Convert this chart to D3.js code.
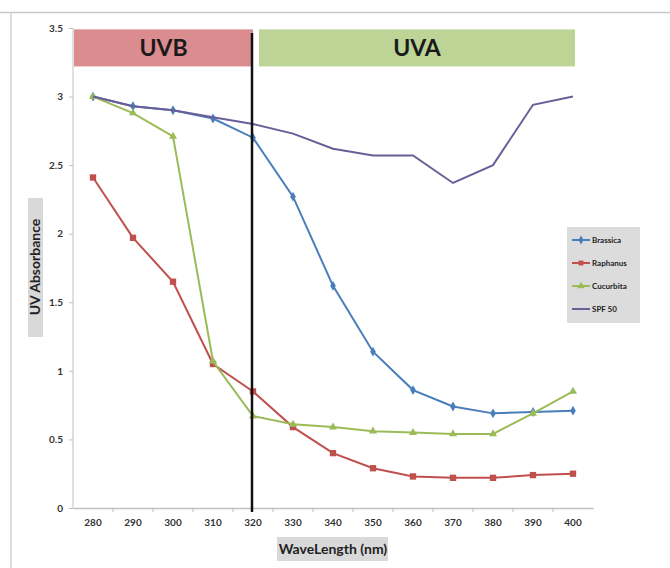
<!DOCTYPE html>
<meta charset="utf-8">
<style>
body { margin: 0; background: #fff; }
text { font-family: Lato, "Liberation Sans", sans-serif; font-weight: bold; fill: #333; }
.axis path, .axis line { stroke: #bfbfbf; }
</style>
<svg></svg>
<script src="https://d3js.org/d3.v7.min.js"></script>
<script>

// wavelengths (nm)
var wavelengths = [280, 290, 300, 310, 320, 330, 340, 350, 360, 370, 380, 390, 400];
var yTicks = [0, 0.5, 1, 1.5, 2, 2.5, 3, 3.5];

// absorbance values
var brassica  = [3.0, 2.93, 2.9, 2.84, 2.7, 2.27, 1.62, 1.14, 0.86, 0.74, 0.69, 0.70, 0.71];
var raphanus  = [2.41, 1.97, 1.65, 1.05, 0.85, 0.59, 0.40, 0.29, 0.23, 0.22, 0.22, 0.24, 0.25];
var cucurbita = [3.0, 2.88, 2.71, 1.07, 0.67, 0.61, 0.59, 0.56, 0.55, 0.54, 0.54, 0.69, 0.85];
var spf50     = [3.0, 2.93, 2.9, 2.85, 2.8, 2.73, 2.62, 2.57, 2.57, 2.37, 2.5, 2.94, 3.0];

var seriesNames = ["Brassica", "Raphanus", "Cucurbita", "SPF 50"];
var seriesColors = ["#4a7ebb", "#c0504d", "#9bbb59", "#6a5e98"];
var seriesShapes = [d3.symbolDiamond, d3.symbolSquare, d3.symbolTriangle, null];
var seriesValues = [brassica, raphanus, cucurbita, spf50];

// regions: [label, from, to]
var regions = [["UVB", 280, 320], ["UVA", 320, 400]];
var regionColors = ["#da8c8e", "#bcd496"];
var boundary = 320;

var W = 670, H = 568;
var svg = d3.select("svg").attr("width", W).attr("height", H);

// outer frame
svg.append("line").attr("x1", 0).attr("x2", W).attr("y1", 12.5).attr("y2", 12.5).attr("stroke", "#c8c8c8").attr("stroke-width", 1.5);
svg.append("line").attr("x1", 11).attr("x2", 11).attr("y1", 12).attr("y2", H).attr("stroke", "#d0d0d0").attr("stroke-width", 1.5);

var x = d3.scaleBand().domain(wavelengths).range([73, 593]).padding(0);
var y = d3.scaleLinear().domain([0, 3.5]).range([508, 28]);
function cx(v) { return x(v) + x.bandwidth() / 2; }

// region bands
var bandTop = y(3.49), bandBot = y(3.22);
regions.forEach(function(r, i) {
  var x0 = i == 0 ? x.range()[0] + 1 : cx(r[1]) + 6;
  var x1 = i == 0 ? cx(r[2]) : cx(r[2]) + 2;
  svg.append("rect")
    .attr("x", x0).attr("y", bandTop)
    .attr("width", x1 - x0).attr("height", bandBot - bandTop)
    .attr("fill", regionColors[i]);
  svg.append("text")
    .attr("x", (x0 + x1) / 2).attr("y", (bandTop + bandBot) / 2 + 8)
    .attr("text-anchor", "middle")
    .style("font-size", "23px").style("fill", "#1a1a1a")
    .text(r[0]);
});

// y axis
var yAxis = svg.append("g").attr("class", "axis")
  .attr("transform", "translate(73,0)")
  .call(d3.axisLeft(y).tickValues(yTicks).tickSize(4).tickPadding(6)
    .tickFormat(function(d) { return d; }));
yAxis.select(".domain").remove();
yAxis.append("line").attr("x1", 0).attr("x2", 0).attr("y1", y(3.5)).attr("y2", y(0)).attr("stroke", "#d0d0d0");
yAxis.selectAll("text").style("font-size", "10px").style("fill", "#333");

// x axis
var xAxis = svg.append("g").attr("class", "axis")
  .attr("transform", "translate(0," + y(0) + ")")
  .call(d3.axisBottom(x).tickSize(0).tickPadding(11));
xAxis.select(".domain").attr("stroke", "#c0c0c0").attr("stroke-width", 1.5);
xAxis.selectAll("text").style("font-size", "10px").style("fill", "#333");
xAxis.selectAll(".sep").data(wavelengths.slice(1)).enter().append("line")
  .attr("x1", function(d) { return x(d); }).attr("x2", function(d) { return x(d); })
  .attr("y1", 0).attr("y2", 4).attr("stroke", "#d0d0d0");

// series
var line = d3.line().x(function(d, i) { return cx(wavelengths[i]); }).y(function(d) { return y(d); });
seriesValues.forEach(function(vals, s) {
  svg.append("path").datum(vals)
    .attr("d", line).attr("fill", "none")
    .attr("stroke", seriesColors[s]).attr("stroke-width", 2);
  if (seriesShapes[s]) {
    svg.selectAll(".m" + s).data(vals).enter().append("path")
      .attr("d", d3.symbol().type(seriesShapes[s]).size(s == 1 ? 40 : 28))
      .attr("transform", function(d, i) { return "translate(" + cx(wavelengths[i]) + "," + y(d) + ")"; })
      .attr("fill", seriesColors[s]);
  }
});

// UVB / UVA boundary
svg.append("line")
  .attr("x1", cx(boundary) - 1).attr("x2", cx(boundary) - 1)
  .attr("y1", 33).attr("y2", y(0) + 4)
  .attr("stroke", "#111").attr("stroke-width", 2.5);

// legend
var lg = svg.append("g").attr("transform", "translate(567,227)");
lg.append("rect").attr("width", 73).attr("height", 96).attr("fill", "#dcdcdc");
seriesNames.forEach(function(n, i) {
  var yy = 13 + i * 23;
  lg.append("line").attr("x1", 5).attr("x2", 23).attr("y1", yy).attr("y2", yy)
    .attr("stroke", seriesColors[i]).attr("stroke-width", 2);
  if (seriesShapes[i]) {
    lg.append("path").attr("d", d3.symbol().type(seriesShapes[i]).size(24))
      .attr("transform", "translate(14," + yy + ")").attr("fill", seriesColors[i]);
  }
  lg.append("text").attr("x", 25).attr("y", yy + 3)
    .style("font-size", "8px").style("fill", "#222").text(n);
});

// axis titles
svg.append("rect").attr("x", 28).attr("y", 198).attr("width", 15).attr("height", 139).attr("fill", "#d9d9d9");
svg.append("text")
  .attr("transform", "translate(40,267) rotate(-90)")
  .attr("text-anchor", "middle")
  .style("font-size", "14px").style("fill", "#222")
  .text("UV Absorbance");

svg.append("rect").attr("x", 277).attr("y", 537).attr("width", 111).attr("height", 24).attr("fill", "#d9d9d9");
svg.append("text")
  .attr("x", 333).attr("y", 554)
  .attr("text-anchor", "middle")
  .style("font-size", "14px").style("fill", "#222")
  .text("WaveLength (nm)");

</script>
